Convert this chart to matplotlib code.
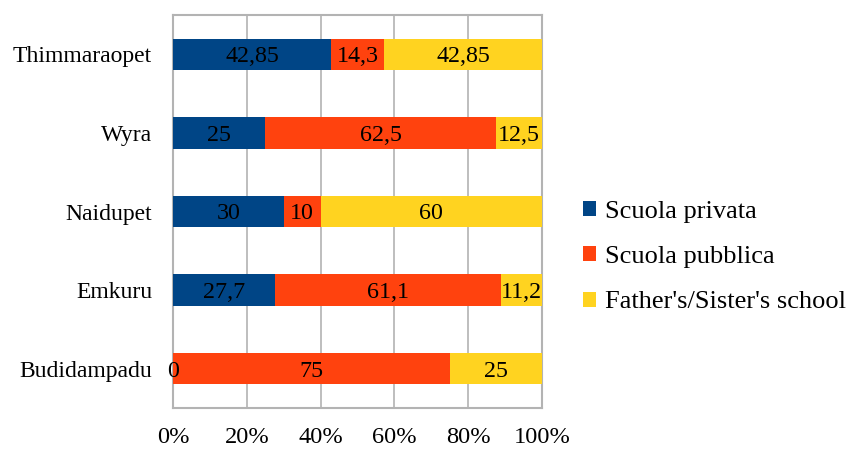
import matplotlib
matplotlib.use("Agg")
import matplotlib.pyplot as plt
import numpy as np

categories = ["Thimmaraopet", "Wyra", "Naidupet", "Emkuru", "Budidampadu"]
series_names = ["Scuola privata", "Scuola pubblica", "Father's/Sister's school"]
privata = [42.85, 25, 30, 27.7, 0]
pubblica = [14.3, 62.5, 10, 61.1, 75]
father = [42.85, 12.5, 60, 11.2, 25]
labels_privata = ["42,85", "25", "30", "27,7", "0"]
labels_pubblica = ["14,3", "62,5", "10", "61,1", "75"]
labels_father = ["42,85", "12,5", "60", "11,2", "25"]
xticks = [0, 20, 40, 60, 80, 100]
xticklabels = ["0%", "20%", "40%", "60%", "80%", "100%"]

colors = ["#004586", "#ff420e", "#ffd320"]

plt.rcParams['font.family'] = ['Liberation Serif', 'DejaVu Serif']

fig = plt.figure(figsize=(8.49, 4.49), dpi=100)
ax = fig.add_axes([173/849, 1 - 408/449, (542-173)/849, (408-15)/449])

y = np.arange(len(categories))
data = [privata, pubblica, father]
labs = [labels_privata, labels_pubblica, labels_father]
left = np.zeros(len(categories))
for vals, lab, c, name in zip(data, labs, colors, series_names):
    vals = np.array(vals, dtype=float)
    ax.barh(y, vals, left=left, height=0.4, color=c, label=name, zorder=3)
    for i, (v, l) in enumerate(zip(vals, lab)):
        xpos = left[i] if v == 0 else left[i] + v / 2
        ax.text(xpos, y[i] + 0.03, l, ha='center', va='center', fontsize=17.3,
                color='black', zorder=4)
    left += vals

ax.set_xlim(0, 100)
ax.set_ylim(len(categories) - 0.5, -0.5)
ax.set_yticks(y)
ax.set_yticklabels(categories, fontsize=17)
ax.set_xticks(xticks)
ax.set_xticklabels(xticklabels, fontsize=17.6)
ax.tick_params(axis='both', length=0)
ax.tick_params(axis='y', pad=15)
ax.tick_params(axis='x', pad=14)
ax.grid(axis='x', color='#b3b3b3', linewidth=1.2, zorder=0)
for s in ax.spines.values():
    s.set_color('#b3b3b3')
    s.set_linewidth(1.5)

leg = fig.legend(loc='center left', bbox_to_anchor=(559/849, 1 - 257/449), frameon=False,
                 fontsize=19, handlelength=0.5, handleheight=0.5, handletextpad=0.35,
                 labelspacing=0.89)

fig.savefig("out.png", dpi=100)
